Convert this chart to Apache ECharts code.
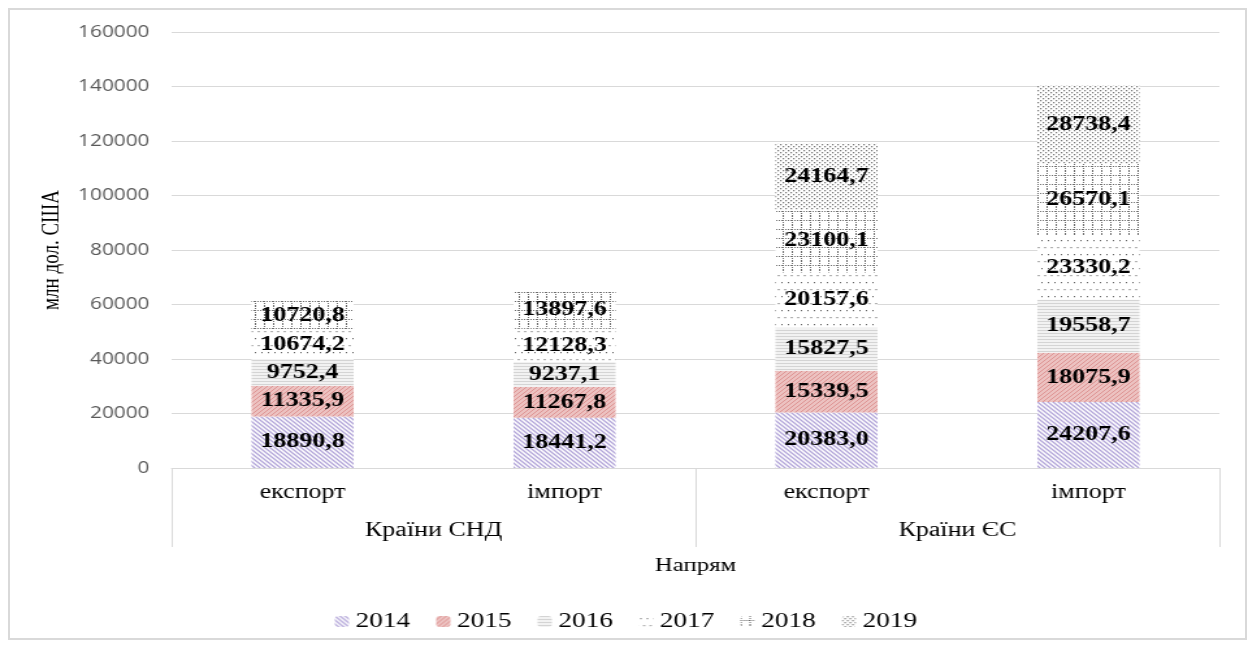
<!DOCTYPE html>
<html>
<head>
<meta charset="utf-8">
<script src="https://cdn.jsdelivr.net/npm/echarts@6/dist/echarts.min.js"></script>
<style>
  html, body { margin: 0; padding: 0; background: #fff; }
  #frame {
    position: absolute; left: 8px; top: 8px; width: 1239px; height: 632px;
    box-sizing: border-box; border: 2px solid #d9d9d9; pointer-events: none;
  }
  /* the picture is stretched sideways, so the chart is drawn narrow and widened */
  #chart {
    position: absolute; left: 0; top: 0; width: 963px; height: 648px;
    transform: scaleX(1.3); transform-origin: 0 0;
  }
</style>
</head>
<body>
<div id="chart"></div>
<div id="frame"></div>
<script>
// categories
var directions = ['експорт', 'імпорт', 'експорт', 'імпорт'];
var groups = ['Країни СНД', 'Країни ЄС'];
var years = ['2014', '2015', '2016', '2017', '2018', '2019'];

// values, mln USD
var v2014 = [18890.8, 18441.2, 20383.0, 24207.6];
var v2015 = [11335.9, 11267.8, 15339.5, 18075.9];
var v2016 = [9752.4, 9237.1, 15827.5, 19558.7];
var v2017 = [10674.2, 12128.3, 20157.6, 23330.2];
var v2018 = [10720.8, 13897.6, 23100.1, 26570.1];
var v2019 = ['-', '-', 24164.7, 28738.4];

var serif = 'Liberation Serif';

// hatch fills
function pattern(w, h, bg, draw) {
  var c = document.createElement('canvas');
  c.width = w; c.height = h;
  var ctx = c.getContext('2d');
  ctx.fillStyle = bg;
  ctx.fillRect(0, 0, w, h);
  draw(ctx);
  return { image: c, repeat: 'repeat' };
}

var fills = [
  // 2014 back diagonal, lavender
  pattern(4, 4, '#ffffff', function (ctx) {
    ctx.strokeStyle = '#b3a6d9'; ctx.lineWidth = 1.3;
    ctx.beginPath();
    ctx.moveTo(-1, -1); ctx.lineTo(5, 5);
    ctx.moveTo(-1, 3); ctx.lineTo(1, 5);
    ctx.moveTo(3, -1); ctx.lineTo(5, 1);
    ctx.stroke();
  }),
  // 2015 forward diagonal, red on pink
  pattern(4, 4, '#ecc2c1', function (ctx) {
    ctx.strokeStyle = '#dc8f8d'; ctx.lineWidth = 0.9;
    ctx.beginPath();
    ctx.moveTo(-1, 5); ctx.lineTo(5, -1);
    ctx.moveTo(-1, 1); ctx.lineTo(1, -1);
    ctx.moveTo(3, 5); ctx.lineTo(5, 3);
    ctx.stroke();
  }),
  // 2016 horizontal lines
  pattern(2, 3, '#f2f2f2', function (ctx) {
    ctx.fillStyle = '#d4d4d4'; ctx.fillRect(0, 0, 2, 1);
  }),
  // 2017 sparse dots
  pattern(5, 14, '#ffffff', function (ctx) {
    ctx.fillStyle = '#666666';
    ctx.fillRect(1, 2, 1, 1.2);
    ctx.fillRect(3.5, 9, 1, 1.2);
  }),
  // 2018 dotted grid
  pattern(7, 9, '#ffffff', function (ctx) {
    ctx.fillStyle = '#6e6e6e';
    for (var y = 0; y < 9; y += 2) ctx.fillRect(0, y, 1, 1);
    for (var x = 0; x < 7; x += 2) ctx.fillRect(x, 4, 1, 1);
  }),
  // 2019 dense dots
  pattern(4, 4, '#ffffff', function (ctx) {
    ctx.fillStyle = '#7a7a7a';
    ctx.fillRect(0, 0, 1.2, 1.3);
    ctx.fillRect(2, 2, 1.2, 1.3);
  })
];

var values = [v2014, v2015, v2016, v2017, v2018, v2019];

var chart = echarts.init(document.getElementById('chart'));

chart.setOption({
  animation: false,
  grid: { left: 132, right: 25, top: 32, bottom: 180 },
  legend: {
    data: years,
    bottom: 11,
    left: 'center',
    itemWidth: 11,
    itemHeight: 11,
    itemGap: 20,
    textStyle: { fontFamily: serif, fontSize: 21, color: '#000' }
  },
  xAxis: [
    {
      type: 'category',
      data: directions,
      position: 'bottom',
      axisLine: { lineStyle: { color: '#d9d9d9' } },
      axisTick: { show: false },
      axisLabel: { margin: 15, fontFamily: serif, fontSize: 20, color: '#000' }
    },
    {
      type: 'category',
      data: groups,
      position: 'bottom',
      axisLine: { show: false },
      axisTick: { show: true, length: 79, interval: 0, lineStyle: { color: '#d9d9d9' } },
      axisLabel: { margin: 53, fontFamily: serif, fontSize: 20, color: '#000' },
      name: 'Напрям',
      nameLocation: 'middle',
      nameGap: 89,
      nameTextStyle: { fontFamily: serif, fontSize: 19, color: '#000' }
    }
  ],
  yAxis: {
    type: 'value',
    min: 0,
    max: 160000,
    interval: 20000,
    axisLine: { show: false },
    axisTick: { show: false },
    splitLine: { lineStyle: { color: '#d9d9d9' } },
    axisLabel: {
      margin: 17, fontFamily: 'Open Sans', fontSize: 16, color: '#595959',
      formatter: function (v) { return String(v); }
    },
    name: 'млн дол. США',
    nameLocation: 'middle',
    nameGap: 74,
    nameTextStyle: { fontFamily: serif, fontSize: 19, color: '#000' }
  },
  series: years.map(function (y, i) {
    return {
      name: y,
      type: 'bar',
      stack: 'total',
      barWidth: '39%',
      data: values[i],
      itemStyle: { color: fills[i] },
      label: {
        show: true,
        position: 'inside',
        fontFamily: serif,
        fontWeight: 'bold',
        fontSize: 20,
        color: '#000',
        formatter: function (p) { return p.value.toFixed(1).replace('.', ','); }
      }
    };
  })
});
</script>
</body>
</html>
